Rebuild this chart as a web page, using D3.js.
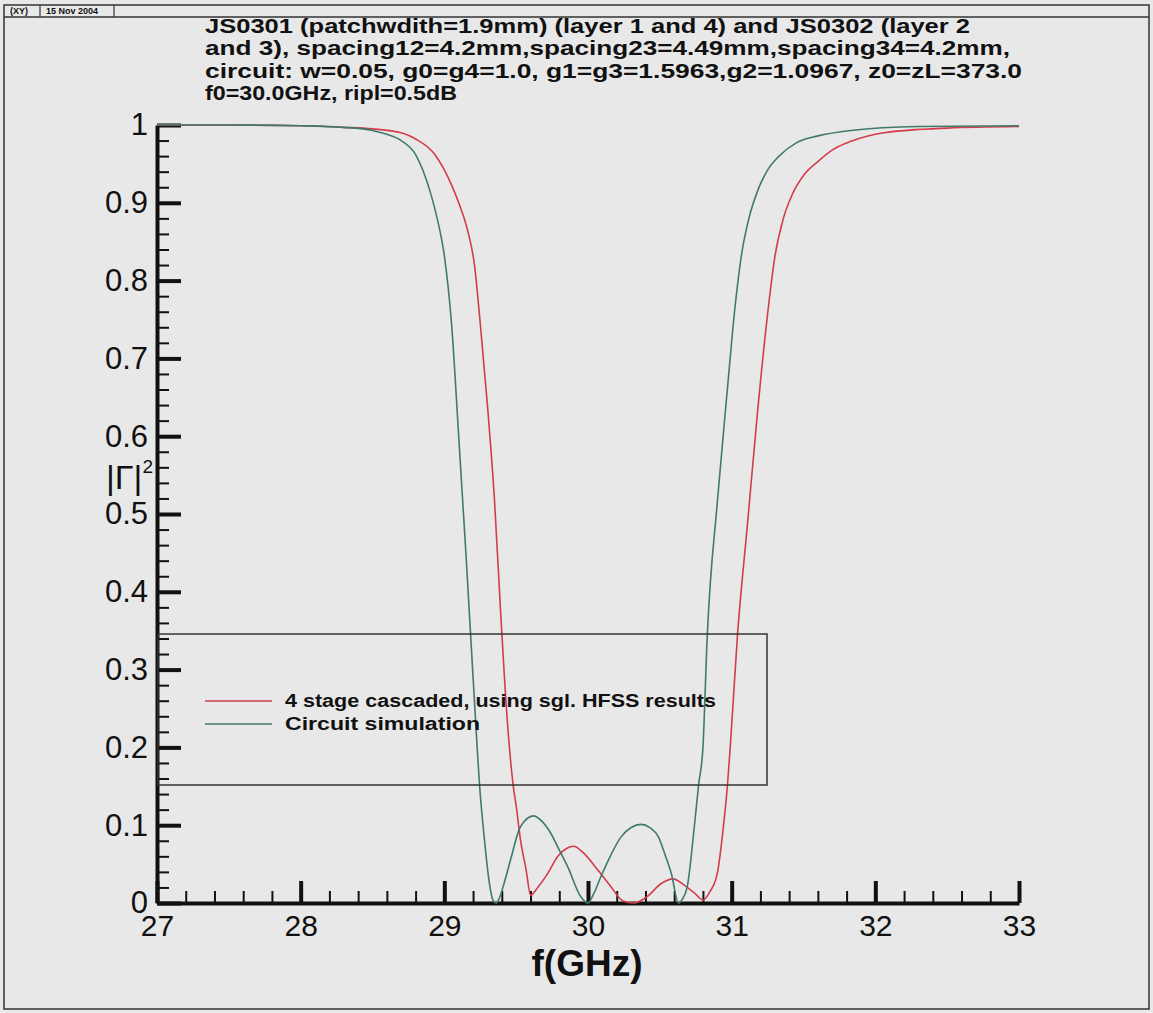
<!DOCTYPE html>
<html>
<head>
<meta charset="utf-8">
<script src="https://cdn.jsdelivr.net/npm/d3@7"></script>
<style>
  html, body { margin: 0; padding: 0; background: #e8e8e8; }
  svg { display: block; }
  text { font-family: "Liberation Sans", Arial, sans-serif; fill: #111; }
</style>
</head>
<body>
<svg id="chart" width="1153" height="1013"></svg>
<script>
// frequency (GHz) / |Gamma|^2
var hfssF = [27.0, 27.5, 28.0, 28.3, 28.5, 28.7, 28.8, 28.93, 29.05, 29.1, 29.16, 29.21, 29.25, 29.3, 29.35,
             29.39, 29.44, 29.48, 29.5, 29.53, 29.57, 29.6, 29.65, 29.72, 29.79, 29.85, 29.9, 29.97, 30.07,
             30.16, 30.24, 30.32, 30.41, 30.51, 30.59, 30.67, 30.74, 30.8, 30.85, 30.9, 30.94, 30.97, 30.99,
             31.04, 31.11, 31.18, 31.25, 31.3, 31.36, 31.42, 31.5, 31.6, 31.71, 31.83, 32.06, 32.5, 33.0];
var hfssG = [1.0, 1.0, 0.999, 0.997, 0.995, 0.99, 0.982, 0.963, 0.923, 0.9, 0.866, 0.82, 0.745, 0.64, 0.515,
             0.38, 0.23, 0.15, 0.125, 0.081, 0.042, 0.01, 0.02, 0.038, 0.06, 0.07, 0.073, 0.064, 0.042,
             0.021, 0.003, 0.0, 0.008, 0.025, 0.031, 0.023, 0.013, 0.004, 0.015, 0.038, 0.094, 0.15, 0.2,
             0.343, 0.487, 0.631, 0.757, 0.83, 0.88, 0.91, 0.935, 0.953, 0.969, 0.979, 0.99, 0.996, 0.998];

var circF = [27.0, 27.5, 28.0, 28.3, 28.5, 28.6, 28.7, 28.8, 28.9, 28.95, 29.0, 29.05, 29.1, 29.15, 29.2,
             29.25, 29.28, 29.31, 29.34, 29.36, 29.38, 29.42, 29.46, 29.53, 29.62, 29.68, 29.74, 29.8, 29.86,
             29.95, 30.0, 30.04, 30.09, 30.16, 30.23, 30.3, 30.37, 30.43, 30.49, 30.54, 30.58, 30.63, 30.66,
             30.69, 30.74, 30.77, 30.8, 30.83, 30.9, 30.97, 31.02, 31.07, 31.12, 31.18, 31.25, 31.33, 31.45,
             31.6, 31.83, 32.3, 33.0];
var circG = [1.0, 1.0, 0.999, 0.997, 0.993, 0.988, 0.98, 0.962, 0.915, 0.88, 0.832, 0.745, 0.6, 0.45, 0.29,
             0.14, 0.08, 0.03, 0.003, 0.0, 0.005, 0.028, 0.055, 0.098, 0.112, 0.105, 0.09, 0.068, 0.046,
             0.008, 0.0, 0.012, 0.034, 0.062, 0.085, 0.097, 0.101, 0.097, 0.085, 0.06, 0.038, 0.0, 0.006,
             0.02, 0.098, 0.152, 0.2, 0.343, 0.515, 0.66, 0.76, 0.835, 0.88, 0.915, 0.942, 0.96, 0.977,
             0.986, 0.993, 0.998, 0.999];

var xTicks = [27, 28, 29, 30, 31, 32, 33];
var yTicks = [0, 0.1, 0.2, 0.3, 0.4, 0.5, 0.6, 0.7, 0.8, 0.9, 1];

var titleLines = [
  "JS0301 (patchwdith=1.9mm) (layer 1 and 4) and JS0302 (layer 2",
  "and 3), spacing12=4.2mm,spacing23=4.49mm,spacing34=4.2mm,",
  "circuit: w=0.05, g0=g4=1.0, g1=g3=1.5963,g2=1.0967, z0=zL=373.0",
  "f0=30.0GHz, ripl=0.5dB"
];
var legendNames = ["4 stage cascaded, using sgl. HFSS results", "Circuit simulation"];
var seriesColors = ["#d43c4c", "#3f7a6c"];

var svg = d3.select('#chart');

// page frame + tecplot header strip
svg.append('rect').attr('x', 0).attr('y', 0).attr('width', 1153).attr('height', 1013).attr('fill', '#e8e8e8');
svg.append('rect').attr('x', 4).attr('y', 5).attr('width', 1145).attr('height', 1004)
  .attr('fill', 'none').attr('stroke', '#333').attr('stroke-width', 1.5);
svg.append('line').attr('x1', 4).attr('x2', 1149).attr('y1', 17).attr('y2', 17)
  .attr('stroke', '#333').attr('stroke-width', 1.5);
[40, 114].forEach(function(x){
  svg.append('line').attr('x1', x).attr('x2', x).attr('y1', 5).attr('y2', 17)
    .attr('stroke', '#333').attr('stroke-width', 1.2);
});
svg.append('text').attr('x', 10).attr('y', 14).attr('font-size', 9).attr('font-weight', 'bold').text('(XY)');
svg.append('text').attr('x', 46).attr('y', 14).attr('font-size', 9).attr('font-weight', 'bold').text('15 Nov 2004');

// title
var titleW = [765, 805, 817, 252];
svg.append('g').selectAll('text').data(titleLines).join('text')
  .attr('x', 205)
  .attr('y', function(d, i){ return 33 + i * 22.3; })
  .attr('font-size', 21).attr('font-weight', 'bold')
  .attr('textLength', function(d, i){ return titleW[i]; })
  .attr('lengthAdjust', 'spacingAndGlyphs')
  .text(function(d){ return d; });

// scales
var x = d3.scaleLinear().domain([27, 33]).range([157, 1019]);
var y = d3.scaleLinear().domain([0, 1]).range([903, 125]);

// minor ticks
var xMinor = d3.range(27, 33.001, 0.2).filter(function(v){ return Math.abs(v - Math.round(v)) > 0.01; });
var yMinor = d3.range(0, 1.001, 0.02).filter(function(v){ return Math.abs(v * 10 - Math.round(v * 10)) > 0.01; });

var gx = svg.append('g').attr('transform', 'translate(0,903)');
gx.call(d3.axisBottom(x).tickValues(xMinor).tickSize(-12).tickSizeOuter(0).tickFormat(''));
gx.selectAll('.tick line').attr('stroke', '#111').attr('stroke-width', 2);
gx.select('.domain').remove();

var gx2 = svg.append('g').attr('transform', 'translate(0,903)');
gx2.call(d3.axisBottom(x).tickValues(xTicks).tickSize(-22).tickSizeOuter(0).tickPadding(12).tickFormat(d3.format('d')));
gx2.selectAll('.tick line').attr('stroke', '#111').attr('stroke-width', 4);
gx2.select('.domain').attr('stroke', '#111').attr('stroke-width', 4);
gx2.selectAll('.tick text').attr('font-size', 30).attr('fill', '#111')
  .attr('font-family', '"Liberation Sans", Arial, sans-serif');

var gy = svg.append('g').attr('transform', 'translate(157,0)');
gy.call(d3.axisLeft(y).tickValues(yMinor).tickSize(-12).tickSizeOuter(0).tickFormat(''));
gy.selectAll('.tick line').attr('stroke', '#111').attr('stroke-width', 2);
gy.select('.domain').remove();

var gy2 = svg.append('g').attr('transform', 'translate(157,0)');
gy2.call(d3.axisLeft(y).tickValues(yTicks).tickSize(-24).tickSizeOuter(0).tickPadding(9)
  .tickFormat(function(d){ return d === 0 ? '0' : d === 1 ? '1' : d3.format('.1f')(d); }));
gy2.selectAll('.tick line').attr('stroke', '#111').attr('stroke-width', 4);
gy2.select('.domain').attr('stroke', '#111').attr('stroke-width', 4);
gy2.selectAll('.tick text').attr('font-size', 31).attr('fill', '#111')
  .attr('font-family', '"Liberation Sans", Arial, sans-serif');

// axis titles
svg.append('text').attr('x', 587).attr('y', 976).attr('text-anchor', 'middle')
  .attr('font-size', 37).attr('font-weight', 'bold').text('f(GHz)');
var yl = svg.append('text').attr('x', 106).attr('y', 489)
  .attr('font-family', '"Liberation Serif", "Times New Roman", serif').attr('font-size', 34);
yl.append('tspan').text('|\u0393|');
yl.append('tspan').attr('font-size', 19).attr('dy', -16).text('2');

// curves
var line = d3.line()
  .x(function(d){ return x(d[0]); })
  .y(function(d){ return y(d[1]); })
  .curve(d3.curveMonotoneX);

var series = [d3.zip(hfssF, hfssG), d3.zip(circF, circG)];
svg.append('g').selectAll('path').data(series).join('path')
  .attr('d', line)
  .attr('fill', 'none')
  .attr('stroke', function(d, i){ return seriesColors[i]; })
  .attr('stroke-width', 1.6);

// legend
var lg = svg.append('g');
lg.append('rect').attr('x', 158).attr('y', 634).attr('width', 609).attr('height', 151)
  .attr('fill', 'none').attr('stroke', '#333').attr('stroke-width', 1.5);
var legW = [431, 195];
legendNames.forEach(function(name, i){
  var ly = 701 + i * 23;
  lg.append('line').attr('x1', 205).attr('x2', 272).attr('y1', ly).attr('y2', ly)
    .attr('stroke', seriesColors[i]).attr('stroke-width', 1.6);
  lg.append('text').attr('x', 285).attr('y', ly + 6).attr('font-size', 18).attr('font-weight', 'bold')
    .attr('textLength', legW[i]).attr('lengthAdjust', 'spacingAndGlyphs').text(name);
});
</script>
</body>
</html>
